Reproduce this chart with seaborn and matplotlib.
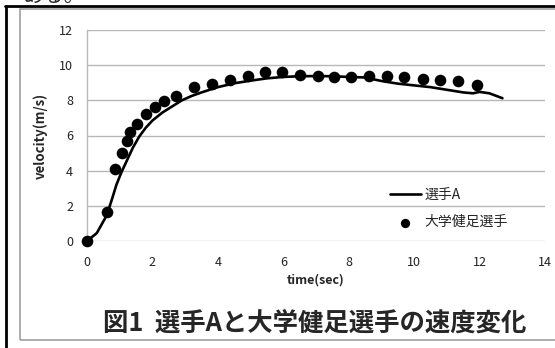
import matplotlib
matplotlib.use("Agg")
import matplotlib.pyplot as plt
import seaborn as sns
import pandas as pd
from matplotlib.lines import Line2D
from matplotlib.patches import Rectangle

# data
line_t = [0, 0.3, 0.6, 0.75, 0.9, 1.05, 1.2, 1.4, 1.6, 1.8, 2.0, 2.3, 2.6, 2.9,
          3.2, 3.5, 4.0, 4.5, 5.0, 5.5, 6.0, 6.5, 7.0, 7.5, 8.0, 8.5, 9.0, 9.5,
          10.0, 10.5, 11.0, 11.5, 11.8, 12.0, 12.3, 12.7]
line_v = [0, 0.45, 1.45, 2.3, 3.2, 3.9, 4.5, 5.3, 5.95, 6.45, 6.85, 7.3, 7.65, 8.0,
          8.25, 8.45, 8.75, 8.97, 9.12, 9.25, 9.33, 9.37, 9.38, 9.37, 9.33, 9.3, 9.1, 8.95,
          8.85, 8.75, 8.6, 8.45, 8.4, 8.48, 8.4, 8.12]

dot_t = [0, 0.61, 0.85, 1.08, 1.23, 1.31, 1.53, 1.80, 2.07, 2.34, 2.71, 3.26, 3.83, 4.37,
         4.91, 5.44, 5.96, 6.51, 7.05, 7.56, 8.07, 8.61, 9.16, 9.69, 10.26, 10.79, 11.35, 11.91]
dot_v = [0, 1.63, 4.1, 5.0, 5.67, 6.2, 6.65, 7.22, 7.6, 7.94, 8.25, 8.73, 8.95, 9.15,
         9.38, 9.6, 9.62, 9.43, 9.39, 9.33, 9.31, 9.37, 9.4, 9.35, 9.23, 9.16, 9.1, 8.87]

x_ticks = [0, 2, 4, 6, 8, 10, 12, 14]
y_ticks = [0, 2, 4, 6, 8, 10, 12]

line_label = "選手A"
dot_label = "大学健足選手"
title = "図1  選手Aと大学健足選手の速度変化"

sns.set_style("white")
plt.rcParams['font.family'] = ['Noto Sans CJK JP', 'DejaVu Sans']

W, H = 555, 348
fig = plt.figure(figsize=(W / 100, H / 100), dpi=100)
ax = fig.add_axes([87 / W, 1 - 241 / H, (545 - 87) / W, (241 - 30) / H])

line_df = pd.DataFrame({"t": line_t, "v": line_v})
dot_df = pd.DataFrame({"t": dot_t, "v": dot_v})

sns.lineplot(data=line_df, x="t", y="v", ax=ax, color="black", linewidth=1.9,
             sort=False, label=line_label)
sns.scatterplot(data=dot_df, x="t", y="v", ax=ax, color="black", s=70,
                edgecolor="black", linewidth=0, label=dot_label, zorder=3)
for art in ax.lines + ax.collections:
    art.set_clip_on(False)

ax.set_xlim(0, 14)
ax.set_ylim(0, 12)
ax.set_xticks(x_ticks)
ax.set_yticks(y_ticks)
ax.tick_params(axis="both", length=0, labelsize=9, colors="#222222")
ax.tick_params(axis="y", pad=10)
ax.tick_params(axis="x", pad=11)
ax.grid(axis="y", color="#b8b8b8", linewidth=1)
ax.grid(axis="x", visible=False)
for s in ["top", "right", "bottom"]:
    ax.spines[s].set_visible(False)
ax.spines["left"].set_color("#b8b8b8")
ax.spines["left"].set_linewidth(1)

ax.set_xlabel("time(sec)", fontsize=9, fontweight="bold", labelpad=3)
ax.set_ylabel("velocity(m/s)", fontsize=9.5, fontweight="bold", labelpad=8)

ax.legend(loc="upper left", bbox_to_anchor=((390 - 87) / (545 - 87), (241 - 188) / (241 - 30)),
          frameon=False, fontsize=10, handlelength=2.2, handletextpad=0.3,
          labelspacing=0.95, borderaxespad=0, borderpad=0, markerscale=0.8)

# outer frame pieces from the screenshot
fig.add_artist(Rectangle((20 / W, 1 - 340 / H), 1.0, (340 - 9) / H, transform=fig.transFigure,
                         fill=False, edgecolor="#a0a0a0", linewidth=1.2))
fig.add_artist(Line2D([6 / W, 6 / W], [0, 1 - 6 / H], transform=fig.transFigure,
                      color="black", linewidth=2))
fig.add_artist(Line2D([5 / W, 1], [1 - 6 / H, 1 - 6 / H], transform=fig.transFigure,
                      color="black", linewidth=2))

fig.text(315 / W, 1 - 323 / H, title, ha="center", va="center",
         fontsize=18.3, fontweight="bold")
fig.text(23 / W, 1 - 1.5 / H, "ある。", ha="left", va="baseline", fontsize=15)

fig.savefig("out.png", dpi=100)
